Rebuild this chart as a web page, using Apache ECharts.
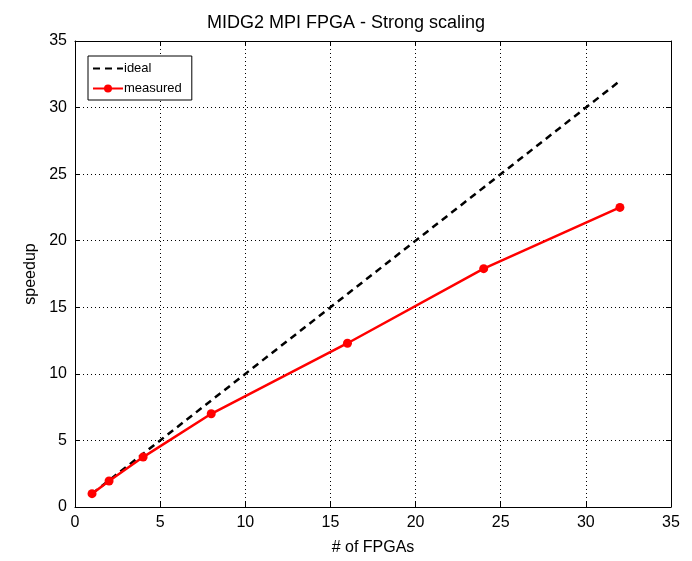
<!DOCTYPE html>
<html><head><meta charset="utf-8">
<script src="https://cdn.jsdelivr.net/npm/echarts@6/dist/echarts.min.js"></script>
<style>html,body{margin:0;padding:0;background:#fff}#c{width:692px;height:561px}</style>
</head><body><div id="c"></div>
<script>
const idealX = [1, 2, 4, 8, 16, 24, 32];
const idealY = [1, 2, 4, 8, 16, 24, 32];
const measuredX = [1, 2, 4, 8, 16, 24, 32];
const measuredY = [1.0, 1.95, 3.75, 7.0, 12.3, 17.9, 22.5];
const xTicks = [0, 5, 10, 15, 20, 25, 30, 35];
const yTicks = [0, 5, 10, 15, 20, 25, 30, 35];

const font = 'Liberation Sans, Arial, sans-serif';
const chart = echarts.init(document.getElementById('c'));
const baseAxis = {
  min: 0, max: 35, interval: 5,
  axisLine: {show: true, onZero: false, lineStyle: {color: '#000', width: 1}},
  axisTick: {show: true, inside: true, length: 5, lineStyle: {color: '#000'}},
};
chart.setOption({
  animation: false,
  title: {text: 'MIDG2 MPI FPGA - Strong scaling', left: 'center', top: 9,
    textStyle: {fontFamily: font, fontSize: 18, fontWeight: 'normal', color: '#000'}},
  grid: {left: 75, right: 21, top: 41, bottom: 49},
  legend: {
    orient: 'vertical', left: 88, top: 56,
    backgroundColor: '#fff', borderColor: '#000', borderWidth: 1, borderRadius: 0,
    padding: [6, 10, 5, 4], itemGap: 7, itemWidth: 30, itemHeight: 10,
    textStyle: {fontFamily: font, fontSize: 13, color: '#000', padding: [0,0,0,-4]},
    data: [{name: 'ideal', itemStyle: {opacity: 0}}, 'measured']
  },
  xAxis: [
    Object.assign({}, baseAxis, {type: 'value', position: 'bottom',
      name: '# of FPGAs', nameLocation: 'middle', nameGap: 33,
      nameTextStyle: {fontFamily: font, fontSize: 16, color: '#000'},
      axisLabel: {show: true, color: '#000', fontFamily: font, fontSize: 16, margin: 8,
        formatter: v => xTicks.includes(v) ? String(v) : ''},
      splitLine: {show: true, lineStyle: {color: '#000', type: [1, 3], width: 1}}}),
    Object.assign({}, baseAxis, {type: 'value', position: 'top',
      axisLabel: {show: false}, splitLine: {show: false}})
  ],
  yAxis: [
    Object.assign({}, baseAxis, {type: 'value', position: 'left',
      name: 'speedup', nameLocation: 'middle', nameGap: 31,
      nameTextStyle: {fontFamily: font, fontSize: 16, color: '#000'},
      axisLabel: {show: true, color: '#000', fontFamily: font, fontSize: 16, margin: 8,
        formatter: v => yTicks.includes(v) ? String(v) : ''},
      splitLine: {show: true, lineStyle: {color: '#000', type: [1, 3], width: 1}}}),
    Object.assign({}, baseAxis, {type: 'value', position: 'right',
      axisLabel: {show: false}, splitLine: {show: false}})
  ],
  series: [
    {name: 'ideal', type: 'line', symbol: 'none', xAxisIndex: 0, yAxisIndex: 0,
      data: idealX.map((x, i) => [x, idealY[i]]),
      lineStyle: {color: '#000', width: 2.5, type: [7, 5]}, itemStyle: {color: '#000'}},
    {name: 'measured', type: 'line', symbol: 'circle', symbolSize: 9, xAxisIndex: 0, yAxisIndex: 0,
      data: measuredX.map((x, i) => [x, measuredY[i]]),
      lineStyle: {color: '#ff0000', width: 2.5}, itemStyle: {color: '#ff0000'}}
  ]
});
</script></body></html>
